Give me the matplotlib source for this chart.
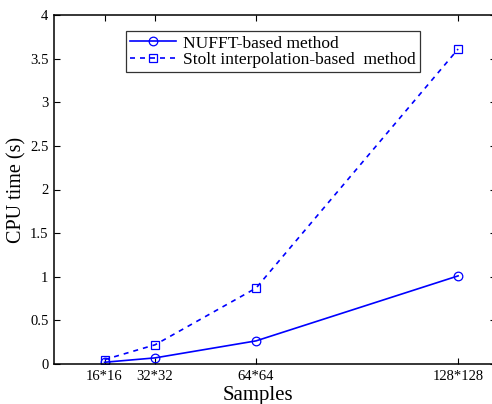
import matplotlib

matplotlib.use("Agg")
import matplotlib.pyplot as plt

# samples per side (N for an N*N grid)
sizes = [16, 32, 64, 128]
size_labels = ["16*16", "32*32", "64*64", "128*128"]
nufft_time = [0.02, 0.07, 0.265, 1.01]
stolt_time = [0.05, 0.22, 0.87, 3.61]
y_ticks = [0, 0.5, 1, 1.5, 2, 2.5, 3, 3.5, 4]
y_tick_labels = ["0", "0.5", "1", "1.5", "2", "2.5", "3", "3.5", "4"]

plt.rcParams["font.family"] = ["Liberation Serif", "DejaVu Serif"]

fig = plt.figure(figsize=(4.92, 4.04), dpi=100)
ax = fig.add_axes([54 / 492, 40 / 404, 442 / 492, 349 / 404])

ax.plot(sizes, nufft_time, color="#0000ff", linewidth=1.2, linestyle="-",
        marker="o", markersize=6.2, markerfacecolor="none", markeredgewidth=0.9,
        label="NUFFT-based method")
ax.plot(sizes, stolt_time, color="#0000ff", linewidth=1.2, linestyle=(0, (3, 3)),
        marker="s", markersize=6.2, markerfacecolor="none", markeredgewidth=0.9,
        label="Stolt interpolation-based  method")

ax.set_xlim(0, 140)
ax.set_ylim(0, 4)
ax.set_xticks(sizes)
ax.set_xticklabels(size_labels)
ax.set_yticks(y_ticks)
ax.set_yticklabels(y_tick_labels)
ax.tick_params(direction="in", length=4, width=0.8, labelsize=10.5,
               top=True, right=True, pad=4)
for side in ax.spines.values():
    side.set_linewidth(1.1)

ax.set_xlabel("Samples", fontsize=15)
ax.xaxis.set_label_coords((257.5 - 54) / 442, -0.063)
ax.set_ylabel("CPU time (s)", fontsize=14.5)
ax.yaxis.set_label_coords((26 - 54) / 442, 0.5)

leg = ax.legend(loc="upper left", bbox_to_anchor=(0.163, 0.954), fontsize=12.5,
                frameon=True, fancybox=False, edgecolor="black",
                handlelength=2.6, handletextpad=0.45, borderpad=0.25,
                labelspacing=0.02, borderaxespad=0)
leg.get_frame().set_linewidth(0.9)

fig.savefig("out.png", dpi=100)
